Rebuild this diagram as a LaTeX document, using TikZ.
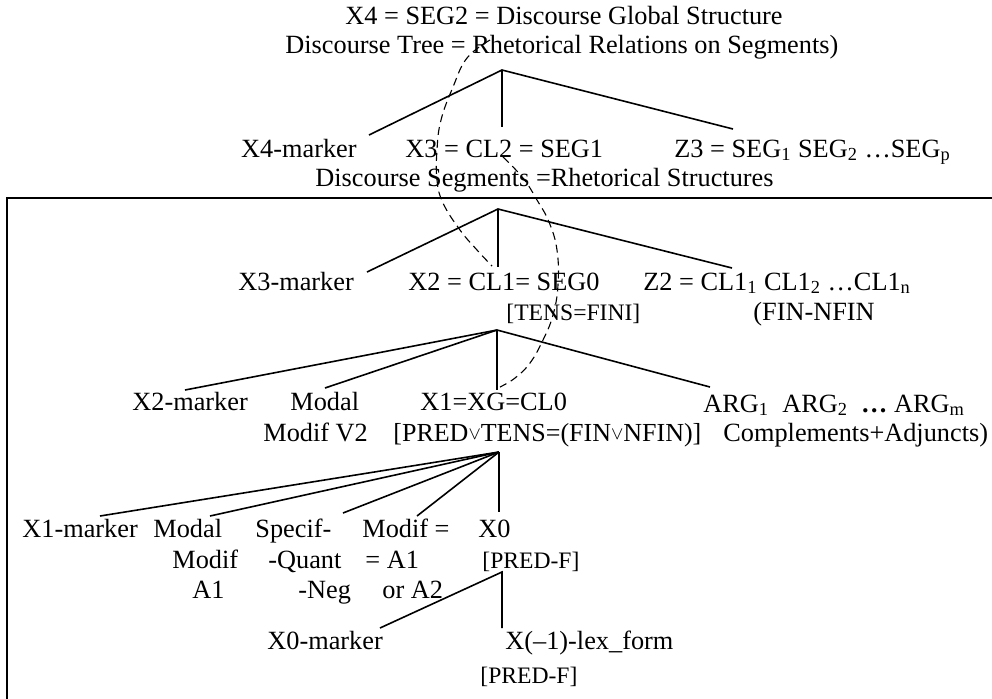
\documentclass[tikz,border=0pt]{standalone}
\usepackage{fontspec}
\setmainfont{Liberation Serif}
\newcommand{\orop}{\raisebox{0.1ex}{$\scriptstyle\vee$}}
\begin{document}
\begin{tikzpicture}[x=0.5pt,y=-0.5pt,
  lbl/.style={anchor=base west,inner sep=0pt,font=\fontsize{13.15}{15}\selectfont},
  sml/.style={anchor=base west,inner sep=0pt,font=\fontsize{11.8}{14}\selectfont},
  branch/.style={line width=0.8pt},
  frame/.style={line width=1.1pt},
  link/.style={line width=0.55pt,dash pattern=on 4pt off 2.5pt}]
\useasboundingbox (0,0) rectangle (992,698);

% ---------- texts ----------
\node[lbl] (t1) at (345,24) {X4 = SEG2 = Discourse Global Structure};
\node[lbl] (t2) at (285,53) {Discourse Tree = Rhetorical Relations on Segments)};

\node[lbl,anchor=base east] (x4m) at (357,157) {X4-marker};
\node[lbl] (x3) at (405,157) {X3 = CL2 = SEG1};
\node[lbl] (z3) at (674,157) {Z3 = SEG\textsubscript{1} SEG\textsubscript{2} …SEG\textsubscript{p}};
\node[lbl] (ds) at (315,186) {Discourse Segments =Rhetorical Structures};

\node[lbl] (x3m) at (238,290) {X3-marker};
\node[lbl] (x2) at (408,290) {X2 = CL1= SEG0};
\node[lbl] (z2) at (643,290) {Z2 = CL1\textsubscript{1} CL1\textsubscript{2} …CL1\textsubscript{n}};
\node[sml] (tens) at (506,320) {[TENS=FINI]};
\node[lbl] (fin) at (753,320) {(FIN-NFIN};

\node[lbl] (x2m) at (132,410) {X2-marker};
\node[lbl] (mod2) at (290,410) {Modal};
\node[lbl] (x1) at (420,410) {X1=XG=CL0};
\node[lbl] (args) at (703,412) {ARG\textsubscript{1}\ \ ARG\textsubscript{2}\ \ \textbf{…} ARG\textsubscript{m}};
\node[lbl] (mod2b) at (263,441) {Modif V2};
\node[sml,font=\fontsize{13}{15}\selectfont] (pred) at (393,441) {[PRED\orop TENS=(FIN\orop NFIN)]};
\node[lbl] (comp) at (723,441) {Complements+Adjuncts)};

\node[lbl] (x1m) at (22,537) {X1-marker};
\node[lbl] (mod1) at (153,537) {Modal};
\node[lbl] (spec) at (255,537) {Specif-};
\node[lbl] (modif) at (362,537) {Modif =};
\node[lbl] (x0) at (478,537) {X0};
\node[lbl] (mod1b) at (172,568) {Modif};
\node[lbl] (quant) at (268,568) {-Quant};
\node[lbl] (a1eq) at (365,568) {= A1};
\node[sml] (pf1) at (482,568) {[PRED-F]};
\node[lbl] (mod1c) at (192,598) {A1};
\node[lbl] (neg) at (298,598) {-Neg};
\node[lbl] (ora2) at (382,598) {or A2};

\node[lbl] (x0m) at (267,649) {X0-marker};
\node[lbl] (lex) at (505,649) {X(–1)-lex\_form};
\node[sml] (pf2) at (480,683) {[PRED-F]};

% ---------- frame ----------
\draw[frame] (7,700) -- (7,198) -- (994,198);

% ---------- tree 1 ----------
\coordinate (a1) at (502,70);
\coordinate (a1l) at (369,135);
\coordinate (a1m) at (502,127);
\coordinate (a1r) at (733,129);
\draw[branch] (a1l) -- (a1) -- (a1r);
\draw[branch] (a1) -- (a1m);

% ---------- tree 2 ----------
\coordinate (a2) at (498,209);
\coordinate (a2l) at (367,272);
\coordinate (a2m) at (498,267);
\coordinate (a2r) at (732,268);
\draw[branch] (a2l) -- (a2) -- (a2r);
\draw[branch] (a2) -- (a2m);

% ---------- tree 3 ----------
\coordinate (a3) at (497,330);
\coordinate (a3a) at (185,390);
\coordinate (a3b) at (325,388);
\coordinate (a3m) at (497,390);
\coordinate (a3r) at (710,387);
\draw[branch] (a3) -- (a3a);
\draw[branch] (a3) -- (a3b);
\draw[branch] (a3) -- (a3m);
\draw[branch] (a3) -- (a3r);

% ---------- tree 4 ----------
\coordinate (a4) at (499,452);
\coordinate (a4a) at (100,516);
\coordinate (a4b) at (210,516);
\coordinate (a4c) at (343,513);
\coordinate (a4d) at (417,516);
\coordinate (a4m) at (499,512);
\draw[branch] (a4) -- (a4a);
\draw[branch] (a4) -- (a4b);
\draw[branch] (a4) -- (a4c);
\draw[branch] (a4) -- (a4d);
\draw[branch] (a4) -- (a4m);

% ---------- tree 5 ----------
\coordinate (a5) at (502,572);
\coordinate (a5l) at (380,628);
\coordinate (a5m) at (502,628);
\draw[branch] (a5l) -- (a5) -- (a5m);

% ---------- dashed links ----------
\draw[link] plot[smooth,tension=0.7] coordinates {(490,40) (467,58) (453,87) (441,120) (437,150) (437,180) (443,203) (460,230) (477,250) (492,266)};
\draw[link] plot[smooth,tension=0.7] coordinates {(503,157) (523,178) (537,200) (549,222) (557,250) (558,285) (553,315) (543,340) (530,363) (515,378) (500,387)};
\end{tikzpicture}
\end{document}
